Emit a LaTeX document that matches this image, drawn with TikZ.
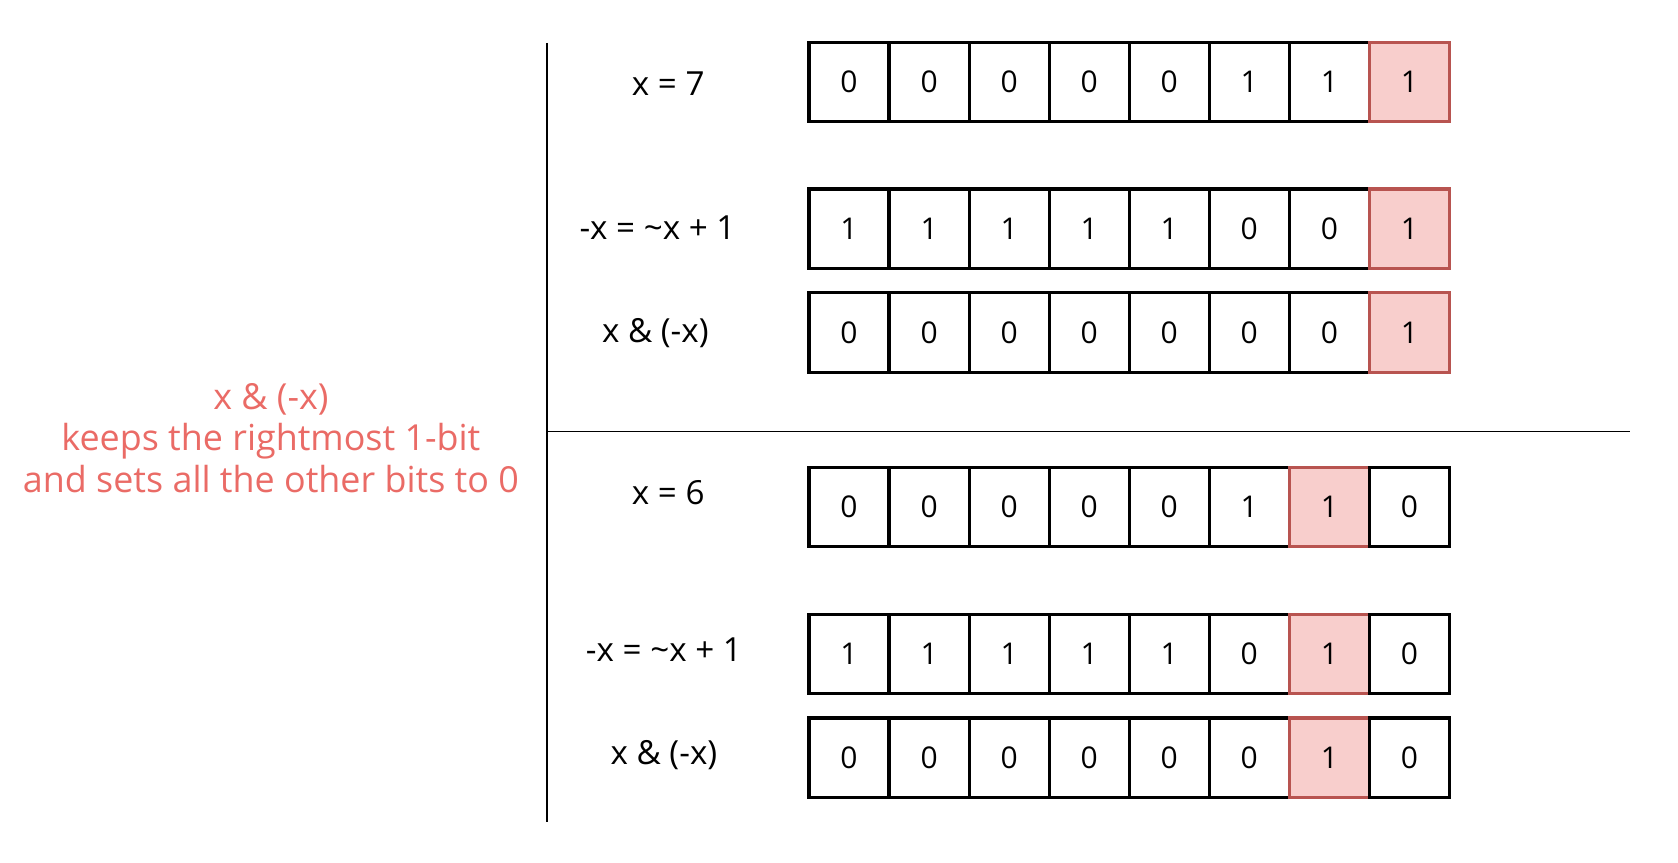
\documentclass[tikz,border=0pt]{standalone}
\usepackage{fontspec}
\setmainfont{Open Sans}
\definecolor{hlfill}{HTML}{F8CECC}
\definecolor{hldraw}{HTML}{B85450}
\definecolor{redtxt}{HTML}{EA6B66}
\begin{document}
\begin{tikzpicture}[x=1pt,y=-1pt,
  cell/.style={draw=black,line width=3pt,minimum width=74.75pt,minimum height=74pt,inner sep=0pt,anchor=north west,font=\fontsize{28}{32}\selectfont},
  hl/.style={fill=hlfill,draw=hldraw},
  lbl/.style={font=\fontsize{31}{36}\selectfont}]
\useasboundingbox (0,0) rectangle (1567,805);
\def\rowA#1#2#3{% y, bits, highlight index
  \foreach \b [count=\i] in {#2} {
    \ifnum\i=#3
      \node[cell,hl] (c#1-\i) at ({754+(\i-1)*74.75},#1) {\b};
    \else
      \node[cell] (c#1-\i) at ({754+(\i-1)*74.75},#1) {\b};
    \fi
  }}
\rowA{38}{0,0,0,0,0,1,1,1}{8}
\rowA{175}{1,1,1,1,1,0,0,1}{8}
\rowA{272}{0,0,0,0,0,0,0,1}{8}
\rowA{435}{0,0,0,0,0,1,1,0}{7}
\rowA{572}{1,1,1,1,1,0,1,0}{7}
\rowA{669}{0,0,0,0,0,0,1,0}{7}
\node[lbl] (l1) at (624,78) {x = 7};
\node[lbl] (l2) at (614,213) {-x = \textasciitilde x + 1};
\node[lbl] (l3) at (612,311) {x \& (-x)};
\node[lbl] (l4) at (624,460) {x = 6};
\node[lbl] (l5) at (620,607) {-x = \textasciitilde x + 1};
\node[lbl] (l6) at (620,705) {x \& (-x)};
\coordinate (vt) at (511,40); \coordinate (vb) at (511,768);
\coordinate (hl) at (511,403); \coordinate (hr) at (1522,403);
\draw[line width=1.5pt] (vt) -- (vb);
\draw[line width=1.5pt] (hl) -- (hr);
\node[text=redtxt,align=center,font=\fontsize{33.5}{38.5}\selectfont] (note) at (253,409)
  {x \& (-x)\\keeps the rightmost 1-bit\\and sets all the other bits to 0};
\end{tikzpicture}
\end{document}
